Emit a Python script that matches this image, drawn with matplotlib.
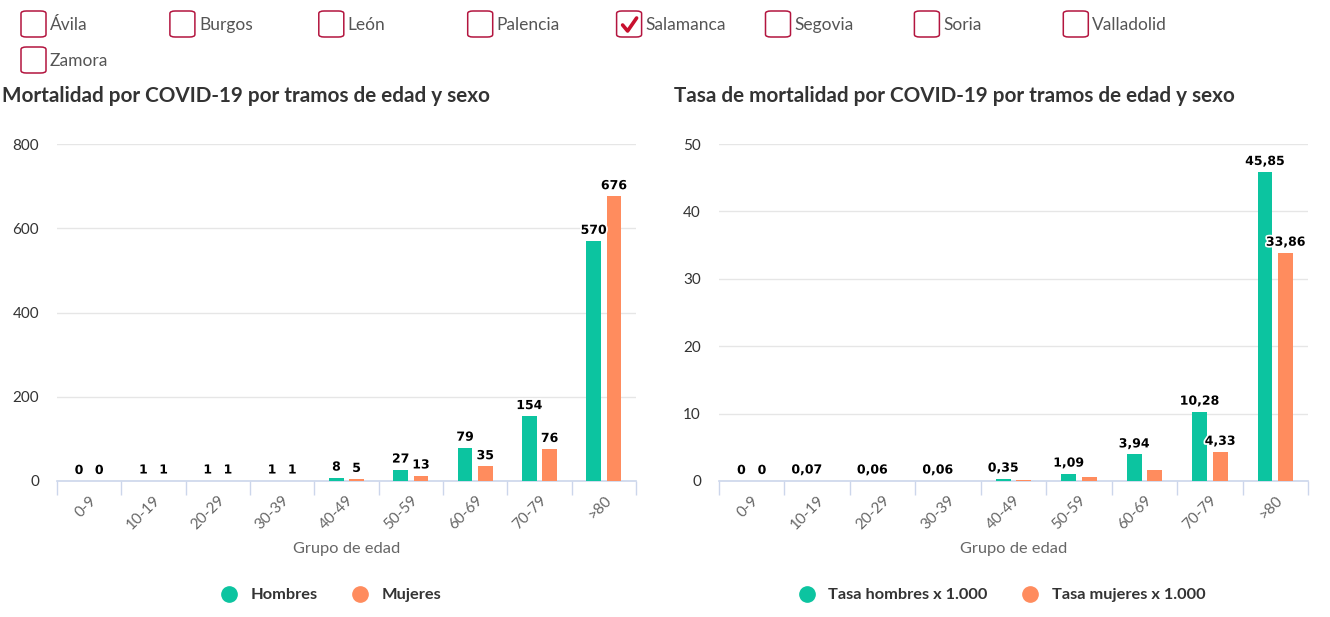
import numpy as np
import matplotlib
matplotlib.use('Agg')
import matplotlib.pyplot as plt
import matplotlib.patheffects as pe
from matplotlib.patches import FancyBboxPatch
from matplotlib.lines import Line2D

plt.rcParams['font.family'] = ['Lato', 'DejaVu Sans']

provincias = ['Ávila', 'Burgos', 'León', 'Palencia', 'Salamanca', 'Segovia', 'Soria', 'Valladolid', 'Zamora']
seleccion = 'Salamanca'

grupos = ['0-9', '10-19', '20-29', '30-39', '40-49', '50-59', '60-69', '70-79', '>80']
hombres = [0, 1, 1, 1, 8, 27, 79, 154, 570]
mujeres = [0, 1, 1, 1, 5, 13, 35, 76, 676]

tasa_hombres = [0, 0.07, 0.06, 0.06, 0.35, 1.09, 3.94, 10.28, 45.85]
tasa_mujeres = [0, 0.07, 0.06, 0.06, 0.22, 0.52, 1.62, 4.33, 33.86]
# etiquetas de mujeres que se ven en el grafico de tasas (las demas se solapan)
tasa_mujeres_visibles = [True, False, False, False, False, False, False, True, True]

VERDE = '#0cc4a0'
NARANJA = '#ff8c5e'
GRID = '#e6e6e6'
EJE = '#ccd6eb'

fig = plt.figure(figsize=(13.3, 6.17), dpi=100)
W, H = 1330, 617


def fx(px):
    return px / W


def fy(py):
    return 1 - py / H


# checkboxes de provincias
for i, p in enumerate(provincias):
    col = i % 8
    fila = i // 8
    x0 = 21 + col * 148.9
    y0 = 11 + fila * 36
    caja = FancyBboxPatch((fx(x0), fy(y0 + 26)), fx(25), 26 / H,
                          boxstyle='round,pad=0,rounding_size=0.004',
                          transform=fig.transFigure, fill=False,
                          edgecolor='#b3153f', linewidth=1.1)
    fig.add_artist(caja)
    fig.text(fx(x0 + 29), fy(y0 + 14), p, fontsize=12.5, color='#555555',
             va='center', ha='left')
    if p == seleccion:
        fig.add_artist(Line2D([fx(x0 + 6), fx(x0 + 11), fx(x0 + 20)],
                              [fy(y0 + 14), fy(y0 + 20), fy(y0 + 7)],
                              transform=fig.transFigure, color='#c8102e',
                              linewidth=2.6, solid_capstyle='round'))

outline = [pe.withStroke(linewidth=2.5, foreground='white')]


def dibujar(ax, h, m, ymax, paso, fmt, vis_m, titulo, tx):
    x = np.arange(len(grupos))
    w = 0.228
    d = 0.157
    ax.bar(x - d, h, width=w, color=VERDE, zorder=3)
    ax.bar(x + d, m, width=w, color=NARANJA, zorder=3)
    for i in range(len(grupos)):
        ax.text(x[i] - d, h[i] + ymax * 0.012, fmt(h[i]), ha='center', va='bottom',
                fontsize=9, fontweight='bold', color='black', family='DejaVu Sans',
                path_effects=outline, zorder=5)
        if vis_m[i]:
            ax.text(x[i] + d, m[i] + ymax * 0.012, fmt(m[i]), ha='center', va='bottom',
                    fontsize=9, fontweight='bold', color='black', family='DejaVu Sans',
                    path_effects=outline, zorder=5)
    ax.set_xlim(-0.5, len(grupos) - 0.5)
    ax.set_ylim(0, ymax)
    ax.set_yticks(np.arange(0, ymax + 1, paso))
    ax.grid(axis='y', color=GRID, linewidth=1, zorder=0)
    for s in ['top', 'right', 'left']:
        ax.spines[s].set_visible(False)
    ax.spines['bottom'].set_color(EJE)
    ax.spines['bottom'].set_linewidth(1.2)
    ax.tick_params(axis='y', length=0, labelsize=11, labelcolor='#333333', pad=13)
    ax.set_xticks(x)
    ax.set_xticklabels(grupos, rotation=45, ha='right', rotation_mode='anchor',
                       fontsize=11, color='#666666')
    ax.tick_params(axis='x', length=0, pad=9)
    ax.set_xticks(np.arange(-0.5, len(grupos)), minor=True)
    ax.tick_params(axis='x', which='minor', length=10, color=EJE, width=1)
    ax.set_xlabel('Grupo de edad', fontsize=11.8, color='#666666', labelpad=7)
    fig.text(tx, fy(96), titulo, fontsize=14.85, fontweight='bold', color='#333333',
             ha='left', va='center')
    return ax


ax1 = fig.add_axes([fx(57), fy(481), fx(579), 337 / H])
dibujar(ax1, hombres, mujeres, 800, 200, lambda v: f'{v}', [True] * 9,
        'Mortalidad por COVID-19 por tramos de edad y sexo', fx(2))

ax2 = fig.add_axes([fx(719), fy(481), fx(589), 337 / H])
dibujar(ax2, tasa_hombres, tasa_mujeres, 50, 10,
        lambda v: '0' if v == 0 else f'{v:.2f}'.replace('.', ','), tasa_mujeres_visibles,
        'Tasa de mortalidad por COVID-19 por tramos de edad y sexo', fx(674))


def leyenda(cx, nombres):
    handles = [Line2D([], [], marker='o', linestyle='', markersize=11, color=c)
               for c in [VERDE, NARANJA]]
    lg = fig.legend(handles, nombres, loc='center', bbox_to_anchor=(cx, fy(595)),
                    ncol=2, frameon=False, handletextpad=0.3, columnspacing=1.6,
                    prop={'size': 11.8, 'weight': 'bold'})
    for t in lg.get_texts():
        t.set_color('#333333')


leyenda(fx(327), ['Hombres', 'Mujeres'])
leyenda(fx(998), ['Tasa hombres x 1.000', 'Tasa mujeres x 1.000'])

fig.savefig('out.png', dpi=100)
